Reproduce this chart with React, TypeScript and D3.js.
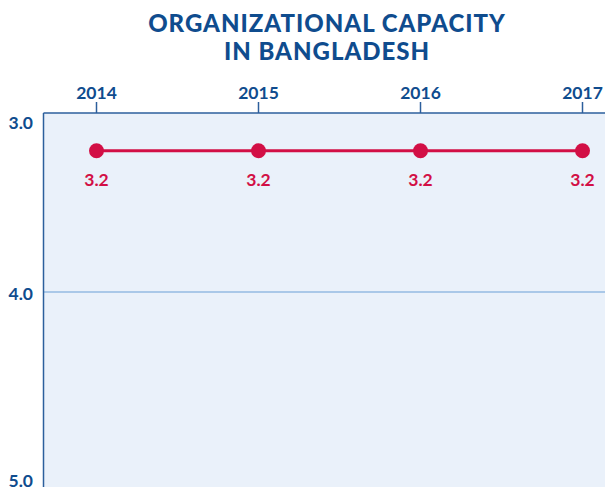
import React, { useEffect, useRef } from 'react';
import * as d3 from 'd3';

const years = ['2014', '2015', '2016', '2017'];
const scores = [3.2, 3.2, 3.2, 3.2];
const yTicks = [3.0, 4.0, 5.0];
const titleLines = ['ORGANIZATIONAL CAPACITY', 'IN BANGLADESH'];

const width = 605;
const height = 487;

const navy = '#0f4c8e';
const axisBlue = '#2c5f9c';
const red = '#d20f45';

export default function App() {
    const svgRef = useRef<SVGSVGElement>(null);

    useEffect(() => {
        const svg = d3.select(svgRef.current)
            .attr('width', width)
            .attr('height', height);

        svg.selectAll('*').remove();

        const plotLeft = 43.5;
        const plotTop = 113;

        const xScale = d3.scalePoint()
            .domain(years)
            .range([96.5, 582.5]);

        // inverted scale: lower score at top
        const yScale = d3.scaleLinear()
            .domain([3, 5])
            .range([plotTop, 471]);

        // title
        svg.append('g')
            .selectAll('text')
            .data(titleLines)
            .enter()
            .append('text')
            .attr('x', 327)
            .attr('y', (d, i) => 32 + i * 28)
            .attr('text-anchor', 'middle')
            .style('font-family', 'Lato, sans-serif')
            .style('font-weight', 900)
            .style('font-size', '24px')
            .style('letter-spacing', '1px')
            .attr('fill', navy)
            .text(d => d);

        // plot background
        svg.append('rect')
            .attr('x', plotLeft)
            .attr('y', plotTop)
            .attr('width', width - plotLeft)
            .attr('height', height - plotTop)
            .attr('fill', '#eaf1fa');

        // gridline (only the middle one shows)
        svg.append('g')
            .selectAll('line')
            .data(yTicks.filter(v => v === 4))
            .enter()
            .append('line')
            .attr('x1', plotLeft)
            .attr('x2', width)
            .attr('y1', d => yScale(d))
            .attr('y2', d => yScale(d))
            .attr('stroke', '#aac8e8')
            .attr('stroke-width', 2);

        // axes
        svg.append('line')
            .attr('x1', plotLeft).attr('x2', width)
            .attr('y1', plotTop).attr('y2', plotTop)
            .attr('stroke', axisBlue)
            .attr('stroke-width', 1.5);

        svg.append('line')
            .attr('x1', plotLeft).attr('x2', plotLeft)
            .attr('y1', plotTop).attr('y2', height)
            .attr('stroke', axisBlue)
            .attr('stroke-width', 1.5);

        // x ticks + year labels
        const xt = svg.append('g')
            .selectAll('g')
            .data(years)
            .enter()
            .append('g')
            .attr('transform', d => `translate(${xScale(d)}, 0)`);

        xt.append('line')
            .attr('y1', plotTop - 11)
            .attr('y2', plotTop)
            .attr('stroke', axisBlue)
            .attr('stroke-width', 1.5);

        xt.append('text')
            .attr('y', 99)
            .attr('text-anchor', 'middle')
            .style('font-family', 'Lato, sans-serif')
            .style('font-weight', 700)
            .style('font-size', '17.5px')
            .attr('fill', navy)
            .text(d => d);

        // y labels
        svg.append('g')
            .selectAll('text')
            .data(yTicks)
            .enter()
            .append('text')
            .attr('x', 33)
            .attr('y', d => yScale(d) + (d === 4 ? 2 : 10))
            .attr('dy', '0.36em')
            .attr('text-anchor', 'end')
            .style('font-family', 'Lato, sans-serif')
            .style('font-weight', 700)
            .style('font-size', '17.5px')
            .attr('fill', navy)
            .text(d => d.toFixed(1));

        const data = years.map((y, i) => ({ year: y, value: scores[i] }));

        const line = d3.line<{ year: string, value: number }>()
            .x(d => xScale(d.year) as number)
            .y(d => yScale(d.value) + 2);

        svg.append('path')
            .datum(data)
            .attr('d', line)
            .attr('fill', 'none')
            .attr('stroke', red)
            .attr('stroke-width', 3);

        svg.append('g')
            .selectAll('circle')
            .data(data)
            .enter()
            .append('circle')
            .attr('cx', d => xScale(d.year) as number)
            .attr('cy', d => yScale(d.value) + 2)
            .attr('r', 7.5)
            .attr('fill', red);

        svg.append('g')
            .selectAll('text')
            .data(data)
            .enter()
            .append('text')
            .attr('x', d => xScale(d.year) as number)
            .attr('y', d => yScale(d.value) + 37)
            .attr('text-anchor', 'middle')
            .style('font-family', 'Lato, sans-serif')
            .style('font-weight', 700)
            .style('font-size', '17.5px')
            .attr('fill', red)
            .text(d => d.value.toFixed(1));
    });

    return (
        <svg ref={svgRef} style={{ position: 'absolute', left: 0, top: 0 }}></svg>
    );
}
